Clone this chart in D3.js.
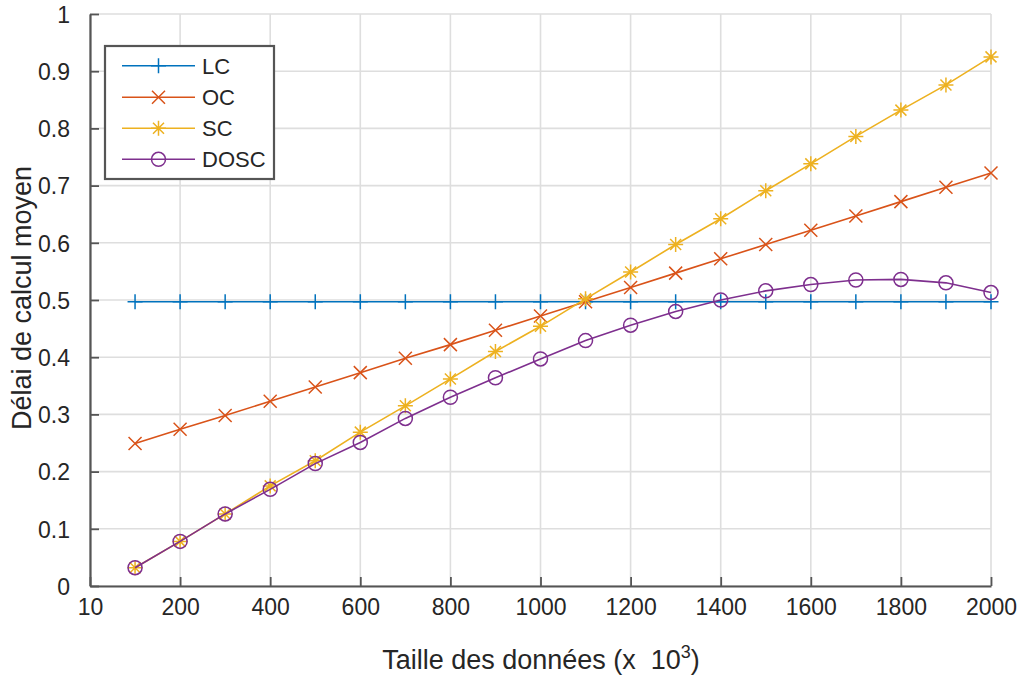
<!DOCTYPE html>
<html><head><meta charset="utf-8">
<script src="https://cdn.jsdelivr.net/npm/d3@7"></script>
<style>
body{margin:0;background:#fff;}
text{font-family:"Liberation Sans",Arial,sans-serif;fill:#262626;}
</style></head>
<body><svg id="c" width="1018" height="677"></svg>
<script>
const xValues = [100,200,300,400,500,600,700,800,900,1000,1100,1200,1300,1400,1500,1600,1700,1800,1900,2000];
const lcValues = [0.497,0.497,0.497,0.497,0.497,0.497,0.497,0.497,0.497,0.497,0.497,0.497,0.497,0.497,0.497,0.497,0.497,0.497,0.497,0.497];
const ocValues = [0.249,0.274,0.298,0.323,0.348,0.373,0.398,0.422,0.447,0.472,0.497,0.522,0.547,0.572,0.597,0.622,0.647,0.672,0.697,0.722];
const scValues = [0.032,0.078,0.126,0.175,0.219,0.269,0.315,0.362,0.410,0.454,0.502,0.549,0.597,0.642,0.691,0.738,0.786,0.832,0.876,0.925];
const doscValues = [0.032,0.078,0.126,0.169,0.214,0.251,0.293,0.330,0.364,0.397,0.429,0.456,0.480,0.500,0.516,0.527,0.535,0.536,0.530,0.513];
const seriesNames = ["LC","OC","SC","DOSC"];
const seriesColors = ["#0072BD","#D95319","#EDB120","#7E2F8E"];
const seriesMarkers = ["plus","cross","star","circle"];
const xTickValues = [0,200,400,600,800,1000,1200,1400,1600,1800,2000];
const xTickLabels = ["10","200","400","600","800","1000","1200","1400","1600","1800","2000"];
const yTickValues = [0,0.1,0.2,0.3,0.4,0.5,0.6,0.7,0.8,0.9,1];
const yTickLabels = ["0","0.1","0.2","0.3","0.4","0.5","0.6","0.7","0.8","0.9","1"];
const xLabel = "Taille des données (x  10";
const yLabel = "Délai de calcul moyen";

const seriesData = [lcValues, ocValues, scValues, doscValues];
const L=90,R=991,T=14,B=586;
const svg=d3.select("#c");
const x=d3.scaleLinear().domain([0,2000]).range([L,R]);
const y=d3.scaleLinear().domain([0,1]).range([B,T]);

// grid
const g=svg.append("g");
g.selectAll(".gx").data(xTickValues).enter().append("line")
 .attr("x1",d=>x(d)).attr("x2",d=>x(d)).attr("y1",T).attr("y2",B)
 .attr("stroke","#dedede").attr("stroke-width",1.6);
g.selectAll(".gy").data(yTickValues).enter().append("line")
 .attr("x1",L).attr("x2",R).attr("y1",d=>y(d)).attr("y2",d=>y(d))
 .attr("stroke","#dedede").attr("stroke-width",1.6);

// axes
const xAxis=d3.axisBottom(x).tickValues(xTickValues).tickFormat((d,i)=>xTickLabels[i]).tickSizeInner(-9).tickSizeOuter(0).tickPadding(22);
const yAxis=d3.axisLeft(y).tickValues(yTickValues).tickFormat((d,i)=>yTickLabels[i]).tickSizeInner(-9).tickSizeOuter(0).tickPadding(20);
const gx=svg.append("g").attr("transform",`translate(0,${B})`).call(xAxis);
const gy=svg.append("g").attr("transform",`translate(${L},0)`).call(yAxis);
[gx,gy].forEach(a=>{
 a.select(".domain").attr("stroke","#555").attr("stroke-width",2.2);
 a.selectAll(".tick line").attr("stroke","#555").attr("stroke-width",1.8);
 a.selectAll(".tick text").attr("font-size",23).attr("fill","#262626")
  .attr("font-family","'Liberation Sans',Arial,sans-serif");
});
gx.selectAll(".tick text").attr("dy","0.32em");
gy.selectAll(".tick text").attr("dy","0.36em");

// marker shapes
function marker(sel,type,color){
 const s=7.5;
 if(type==="plus"){
  sel.append("path").attr("d",`M${-s},0H${s}M0,${-s}V${s}`);
 } else if(type==="cross"){
  const c=6.5;
  sel.append("path").attr("d",`M${-c},${-c}L${c},${c}M${-c},${c}L${c},${-c}`);
 } else if(type==="star"){
  const c=5.5;
  sel.append("path").attr("d",`M${-s},0H${s}M0,${-s}V${s}M${-c},${-c}L${c},${c}M${-c},${c}L${c},${-c}`);
 } else {
  sel.append("circle").attr("r",7).attr("fill","none");
 }
 sel.selectAll("path,circle").attr("stroke",color).attr("stroke-width",1.5).attr("fill","none");
}

const line=d3.line().x((d,i)=>x(xValues[i])).y(d=>y(d));
seriesData.forEach((vals,k)=>{
 const sg=svg.append("g");
 sg.append("path").attr("d",line(vals)).attr("fill","none")
  .attr("stroke",seriesColors[k]).attr("stroke-width",1.6);
 sg.selectAll("g.m").data(vals).enter().append("g")
  .attr("transform",(d,i)=>`translate(${x(xValues[i])},${y(d)})`)
  .each(function(){marker(d3.select(this),seriesMarkers[k],seriesColors[k]);});
});

// legend
const lg=svg.append("g");
lg.append("rect").attr("x",105).attr("y",46).attr("width",169).attr("height",133)
 .attr("fill","#fff").attr("stroke","#555").attr("stroke-width",2.2);
const ly=[65.7,97.3,128.3,159.3];
seriesNames.forEach((n,k)=>{
 lg.append("line").attr("x1",122).attr("x2",195).attr("y1",ly[k]).attr("y2",ly[k])
  .attr("stroke",seriesColors[k]).attr("stroke-width",1.6);
 const m=lg.append("g").attr("transform",`translate(158.5,${ly[k]})`);
 marker(m,seriesMarkers[k],seriesColors[k]);
 lg.append("text").attr("x",202).attr("y",ly[k]).attr("dy","0.36em")
  .attr("font-size",22).text(n);
});

// axis labels
const xl=svg.append("text").attr("x",541).attr("y",669).attr("text-anchor","middle")
 .attr("font-size",27).style("white-space","pre");
xl.append("tspan").text(xLabel);
xl.append("tspan").attr("dy",-11).attr("font-size",18).text("3");
xl.append("tspan").attr("dy",11).text(")");
svg.append("text").attr("transform","translate(31,298) rotate(-90)").attr("text-anchor","middle")
 .attr("font-size",27).text(yLabel);
</script></body></html>
